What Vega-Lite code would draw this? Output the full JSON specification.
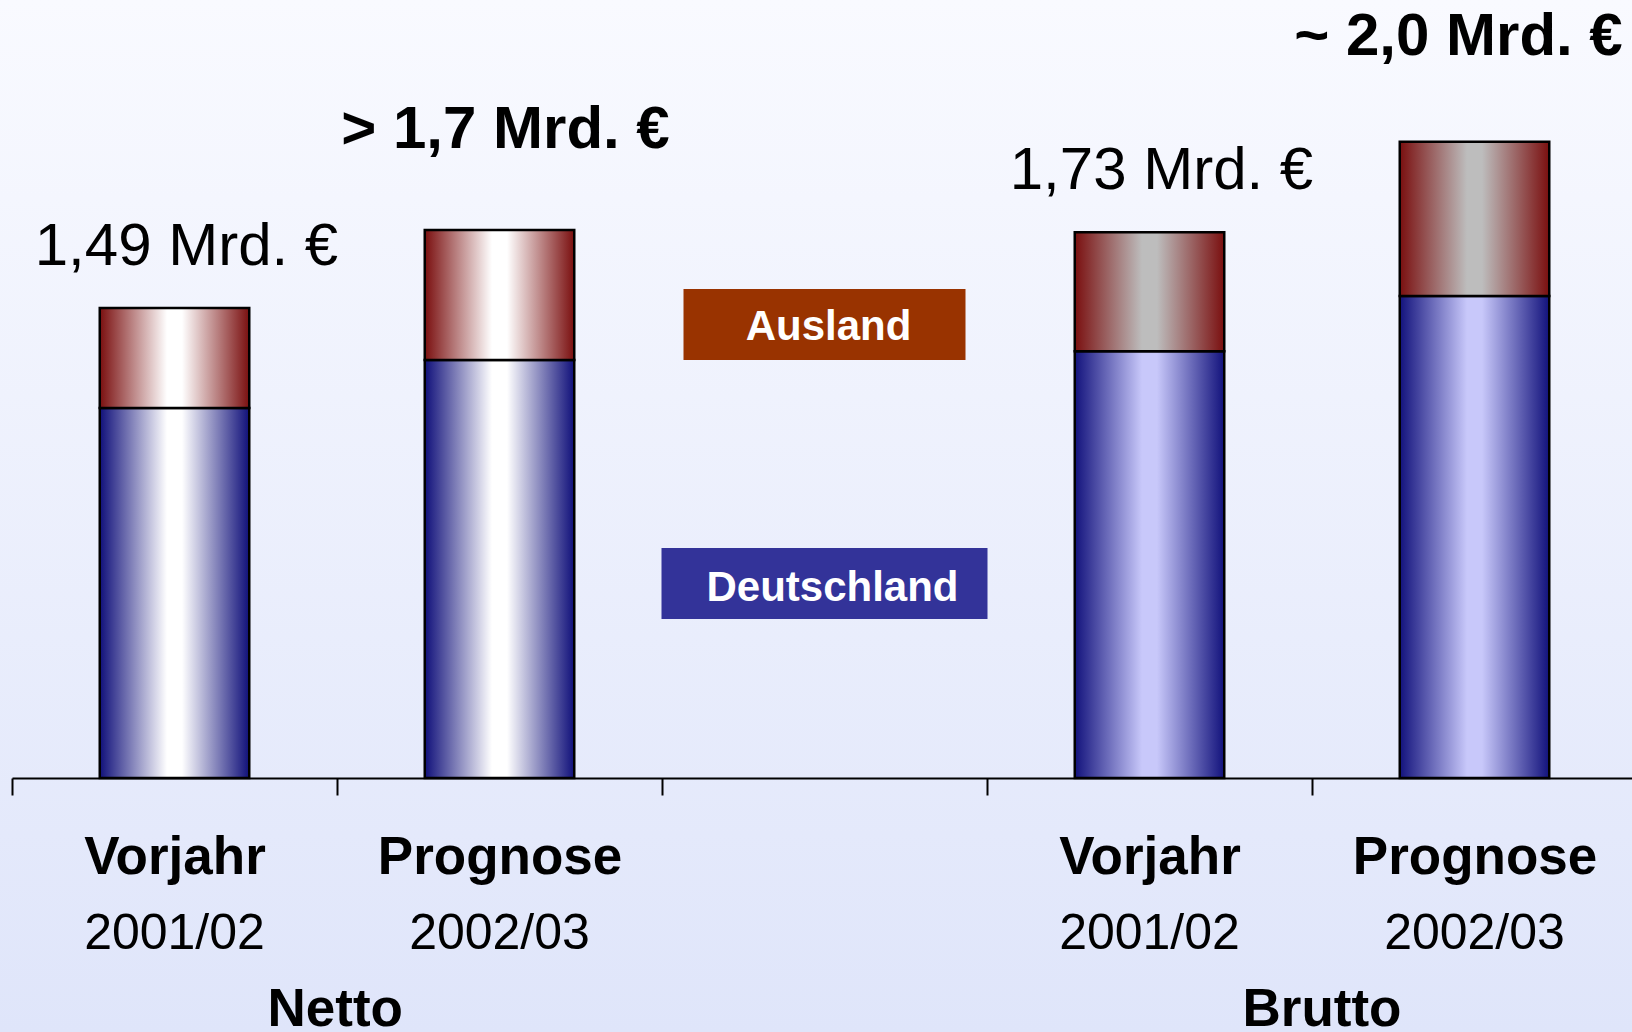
{
  "$schema": "https://vega.github.io/schema/vega-lite/v6.json",
  "width": 1632,
  "height": 1032,
  "autosize": "none",
  "padding": 0,
  "background": "#dfe5fa",
  "view": {
    "stroke": null,
    "fill": {"gradient": "linear", "x1": 0, "y1": 0, "x2": 0, "y2": 1,
      "stops": [{"offset": 0, "color": "#f9faff"}, {"offset": 1, "color": "#dfe5fa"}]}
  },
  "config": {"font": "Liberation Sans"},
  "datasets": {
    "bars": [
      {"key": "Netto|Vorjahr|2001/02", "group": "Netto", "phase": "Vorjahr", "year": "2001/02", "inland": 1.173, "total": 1.49, "label": "1,49 Mrd. €"},
      {"key": "Netto|Prognose|2002/03", "group": "Netto", "phase": "Prognose", "year": "2002/03", "inland": 1.325, "total": 1.737, "label": "> 1,7 Mrd. €"},
      {"key": "Brutto|Vorjahr|2001/02", "group": "Brutto", "phase": "Vorjahr", "year": "2001/02", "inland": 1.353, "total": 1.73, "label": "1,73 Mrd. €"},
      {"key": "Brutto|Prognose|2002/03", "group": "Brutto", "phase": "Prognose", "year": "2002/03", "inland": 1.528, "total": 2.017, "label": "~ 2,0 Mrd. €"}
    ],
    "legend": [{"series": "Ausland"}, {"series": "Deutschland"}]
  },
  "layer": [
    {
      "data": {"name": "bars"},
      "mark": {"type": "bar", "stroke": "#000000", "strokeWidth": 2.5},
      "encoding": {
        "x": {"field": "key", "type": "nominal",
          "scale": {"domain": ["Netto|Vorjahr|2001/02", "Netto|Prognose|2002/03", "gap", "Brutto|Vorjahr|2001/02", "Brutto|Prognose|2002/03"], "range": [12, 1637], "paddingInner": 0.54, "paddingOuter": 0.27},
          "axis": {"orient": "bottom", "offset": -254, "title": null, "grid": false,
            "domain": true, "domainColor": "#000000", "domainWidth": 2,
            "ticks": true, "tickSize": 17, "tickColor": "#000000", "tickWidth": 2, "tickOffset": -162.5,
            "labelExpr": "datum.value === 'gap' ? '' : split(datum.value, '|')[1]",
            "labelFont": "Liberation Sans", "labelFontSize": 53, "labelFontWeight": "bold", "labelColor": "#000000", "labelLimit": 0,
            "labelBaseline": "alphabetic", "labelPadding": 78, "labelOffset": 162.5, "labelAngle": 0, "labelOverlap": false, "labelBound": false, "labelFlush": false}},
        "y": {"field": "inland", "type": "quantitative", "scale": {"domain": [-0.805, 2.466], "nice": false, "zero": false}, "axis": null},
        "y2": {"datum": 0},
        "fill": {
          "condition": {"test": "datum.group === 'Netto'",
            "value": {"gradient": "linear", "x1": 0, "y1": 0, "x2": 1, "y2": 0,
              "stops": [{"offset": 0, "color": "#10107a"}, {"offset": 0.45, "color": "#ffffff"}, {"offset": 0.55, "color": "#ffffff"}, {"offset": 1, "color": "#10107a"}]}},
          "value": {"gradient": "linear", "x1": 0, "y1": 0, "x2": 1, "y2": 0,
            "stops": [{"offset": 0, "color": "#12127c"}, {"offset": 0.45, "color": "#c8c8fa"}, {"offset": 0.55, "color": "#c8c8fa"}, {"offset": 1, "color": "#12127c"}]}
        }
      }
    },
    {
      "data": {"name": "bars"},
      "mark": {"type": "bar", "stroke": "#000000", "strokeWidth": 2.5},
      "encoding": {
        "x": {"field": "key", "type": "nominal",
          "scale": {"domain": ["Netto|Vorjahr|2001/02", "Netto|Prognose|2002/03", "gap", "Brutto|Vorjahr|2001/02", "Brutto|Prognose|2002/03"], "range": [12, 1637], "paddingInner": 0.54, "paddingOuter": 0.27},
          "axis": {"orient": "bottom", "offset": -254, "title": null, "grid": false,
            "domain": false, "ticks": false,
            "labelExpr": "datum.value === 'gap' ? '' : split(datum.value, '|')[2]",
            "labelFont": "Liberation Sans", "labelFontSize": 50, "labelFontWeight": "normal", "labelColor": "#000000", "labelLimit": 0,
            "labelBaseline": "alphabetic", "labelPadding": 170, "labelAngle": 0, "labelOverlap": false, "labelBound": false, "labelFlush": false}},
        "y": {"field": "total", "type": "quantitative", "scale": {"domain": [-0.805, 2.466], "nice": false, "zero": false}, "axis": null},
        "y2": {"field": "inland"},
        "fill": {
          "condition": {"test": "datum.group === 'Netto'",
            "value": {"gradient": "linear", "x1": 0, "y1": 0, "x2": 1, "y2": 0,
              "stops": [{"offset": 0, "color": "#7a0f0f"}, {"offset": 0.45, "color": "#ffffff"}, {"offset": 0.55, "color": "#ffffff"}, {"offset": 1, "color": "#7a0f0f"}]}},
          "value": {"gradient": "linear", "x1": 0, "y1": 0, "x2": 1, "y2": 0,
            "stops": [{"offset": 0, "color": "#7a0f0f"}, {"offset": 0.45, "color": "#bdbdbd"}, {"offset": 0.55, "color": "#bdbdbd"}, {"offset": 1, "color": "#7a0f0f"}]}
        }
      }
    },
    {
      "data": {"name": "bars"},
      "transform": [{"filter": "datum.phase === 'Vorjahr'"}],
      "mark": {"type": "text", "font": "Liberation Sans", "fontSize": 60, "fontWeight": "normal", "color": "#000000", "align": "center", "baseline": "alphabetic", "dx": 12, "dy": -43},
      "encoding": {
        "x": {"field": "key", "type": "nominal",
          "scale": {"domain": ["Netto|Vorjahr|2001/02", "Netto|Prognose|2002/03", "gap", "Brutto|Vorjahr|2001/02", "Brutto|Prognose|2002/03"], "range": [12, 1637], "paddingInner": 0.54, "paddingOuter": 0.27},
          "axis": {"orient": "bottom", "offset": -254, "title": null, "grid": false,
            "domain": false, "ticks": false,
            "labelExpr": "indexof(datum.value, 'Vorjahr') >= 0 ? split(datum.value, '|')[0] : ''",
            "labelFont": "Liberation Sans", "labelFontSize": 53, "labelFontWeight": "bold", "labelColor": "#000000", "labelLimit": 0,
            "labelBaseline": "alphabetic", "labelAlign": "left", "labelPadding": 247, "labelOffset": 93, "labelAngle": 0, "labelOverlap": false, "labelBound": false, "labelFlush": false}},
        "y": {"field": "total", "type": "quantitative", "scale": {"domain": [-0.805, 2.466], "nice": false, "zero": false}, "axis": null},
        "text": {"field": "label"}
      }
    },
    {
      "data": {"name": "bars"},
      "transform": [{"filter": "datum.group === 'Netto' && datum.phase === 'Prognose'"}],
      "mark": {"type": "text", "font": "Liberation Sans", "fontSize": 60, "fontWeight": "bold", "color": "#000000", "align": "center", "baseline": "alphabetic", "dx": 6, "dy": -82},
      "encoding": {
        "x": {"field": "key", "type": "nominal",
          "scale": {"domain": ["Netto|Vorjahr|2001/02", "Netto|Prognose|2002/03", "gap", "Brutto|Vorjahr|2001/02", "Brutto|Prognose|2002/03"], "range": [12, 1637], "paddingInner": 0.54, "paddingOuter": 0.27},
          "axis": null},
        "y": {"field": "total", "type": "quantitative", "scale": {"domain": [-0.805, 2.466], "nice": false, "zero": false}, "axis": null},
        "text": {"field": "label"}
      }
    },
    {
      "data": {"name": "bars"},
      "transform": [{"filter": "datum.group === 'Brutto' && datum.phase === 'Prognose'"}],
      "mark": {"type": "text", "font": "Liberation Sans", "fontSize": 60, "fontWeight": "bold", "color": "#000000", "align": "center", "baseline": "alphabetic", "dx": -16, "dy": -87},
      "encoding": {
        "x": {"field": "key", "type": "nominal",
          "scale": {"domain": ["Netto|Vorjahr|2001/02", "Netto|Prognose|2002/03", "gap", "Brutto|Vorjahr|2001/02", "Brutto|Prognose|2002/03"], "range": [12, 1637], "paddingInner": 0.54, "paddingOuter": 0.27},
          "axis": null},
        "y": {"field": "total", "type": "quantitative", "scale": {"domain": [-0.805, 2.466], "nice": false, "zero": false}, "axis": null},
        "text": {"field": "label"}
      }
    },
    {
      "data": {"name": "legend"},
      "transform": [{"filter": "datum.series === 'Ausland'"}],
      "mark": {"type": "bar", "fill": "#993300", "width": 282},
      "encoding": {
        "x": {"datum": "gap", "type": "nominal",
          "scale": {"domain": ["Netto|Vorjahr|2001/02", "Netto|Prognose|2002/03", "gap", "Brutto|Vorjahr|2001/02", "Brutto|Prognose|2002/03"], "range": [12, 1637], "paddingInner": 0.54, "paddingOuter": 0.27},
          "axis": null},
        "y": {"datum": 1.325, "type": "quantitative", "scale": {"domain": [-0.805, 2.466], "nice": false, "zero": false}, "axis": null},
        "y2": {"datum": 1.55}
      }
    },
    {
      "data": {"name": "legend"},
      "transform": [{"filter": "datum.series === 'Ausland'"}],
      "mark": {"type": "text", "font": "Liberation Sans", "fontSize": 42, "fontWeight": "bold", "color": "#ffffff", "align": "center", "baseline": "alphabetic", "dx": 4},
      "encoding": {
        "x": {"datum": "gap", "type": "nominal",
          "scale": {"domain": ["Netto|Vorjahr|2001/02", "Netto|Prognose|2002/03", "gap", "Brutto|Vorjahr|2001/02", "Brutto|Prognose|2002/03"], "range": [12, 1637], "paddingInner": 0.54, "paddingOuter": 0.27},
          "axis": null},
        "y": {"datum": 1.388, "type": "quantitative", "scale": {"domain": [-0.805, 2.466], "nice": false, "zero": false}, "axis": null},
        "text": {"field": "series"}
      }
    },
    {
      "data": {"name": "legend"},
      "transform": [{"filter": "datum.series === 'Deutschland'"}],
      "mark": {"type": "bar", "fill": "#333399", "width": 326},
      "encoding": {
        "x": {"datum": "gap", "type": "nominal",
          "scale": {"domain": ["Netto|Vorjahr|2001/02", "Netto|Prognose|2002/03", "gap", "Brutto|Vorjahr|2001/02", "Brutto|Prognose|2002/03"], "range": [12, 1637], "paddingInner": 0.54, "paddingOuter": 0.27},
          "axis": null},
        "y": {"datum": 0.504, "type": "quantitative", "scale": {"domain": [-0.805, 2.466], "nice": false, "zero": false}, "axis": null},
        "y2": {"datum": 0.729}
      }
    },
    {
      "data": {"name": "legend"},
      "transform": [{"filter": "datum.series === 'Deutschland'"}],
      "mark": {"type": "text", "font": "Liberation Sans", "fontSize": 42, "fontWeight": "bold", "color": "#ffffff", "align": "center", "baseline": "alphabetic", "dx": 8},
      "encoding": {
        "x": {"datum": "gap", "type": "nominal",
          "scale": {"domain": ["Netto|Vorjahr|2001/02", "Netto|Prognose|2002/03", "gap", "Brutto|Vorjahr|2001/02", "Brutto|Prognose|2002/03"], "range": [12, 1637], "paddingInner": 0.54, "paddingOuter": 0.27},
          "axis": null},
        "y": {"datum": 0.5626, "type": "quantitative", "scale": {"domain": [-0.805, 2.466], "nice": false, "zero": false}, "axis": null},
        "text": {"field": "series"}
      }
    }
  ],
  "resolve": {"axis": {"x": "independent"}}
}
